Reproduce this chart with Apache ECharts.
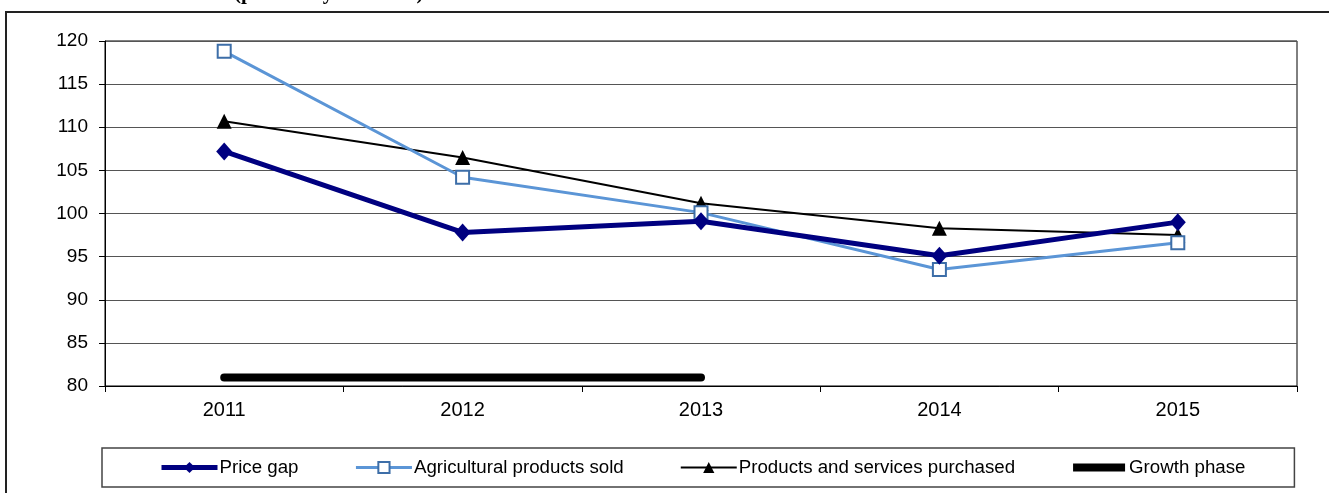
<!DOCTYPE html>
<html>
<head>
<meta charset="utf-8">
<script src="https://cdn.jsdelivr.net/npm/echarts@6/dist/echarts.min.js"></script>
<style>
  html, body { margin: 0; padding: 0; background: #fff; }
  #chart { width: 1329px; height: 493px; }
</style>
</head>
<body>
<div id="chart"></div>
<script>
  const years = ['2011', '2012', '2013', '2014', '2015'];
  const priceGap = [107.2, 97.8, 99.1, 95.1, 99.0];
  const agriSold = [118.8, 104.2, 100.1, 93.5, 96.6];
  const purchased = [110.7, 106.5, 101.2, 98.3, 97.5];
  const growthPhase = [81, 81, 81, null, null];
  const yTicks = { min: 80, max: 120, step: 5 };

  const font = 'Liberation Sans, Arial, sans-serif';
  const chart = echarts.init(document.getElementById('chart'), null, { renderer: 'canvas' });

  // thick bar icon, padded with move-to points so it keeps the full item box
  const barIcon = 'path://M0,0M2,3L54,3L54,11L2,11ZM56,14';

  chart.setOption({
    animation: false,
    backgroundColor: '#fff',
    textStyle: { fontFamily: font },
    graphic: [
      {
        type: 'rect',
        shape: { x: 6, y: 12, width: 1340, height: 520 },
        style: { fill: 'none', stroke: '#222', lineWidth: 2 },
        silent: true
      },
      {
        type: 'text',
        x: 234, y: -17,
        style: {
          text: '(previous year = 100)',
          font: 'bold 21px "Liberation Serif", "Times New Roman", serif',
          fill: '#000',
          verticalAlign: 'top'
        },
        silent: true
      }
    ],
    grid: {
      left: 105, right: 32, top: 41, bottom: 107,
      show: true, borderColor: '#000', borderWidth: 1
    },
    legend: {
      left: 102, top: 448,
      padding: [10, 49, 10, 57],
      borderColor: '#444', borderWidth: 1.5,
      itemWidth: 56, itemHeight: 14, itemGap: 56,
      textStyle: { fontSize: 18.7, color: '#000', fontFamily: font, padding: [0, 0, 0, -3] },
      data: [
        { name: 'Price gap', lineStyle: { width: 5 } },
        { name: 'Agricultural products sold', lineStyle: { width: 3 } },
        { name: 'Products and services purchased', lineStyle: { width: 2 } },
        { name: 'Growth phase', icon: barIcon, itemStyle: { color: '#000' } }
      ]
    },
    xAxis: {
      type: 'category',
      data: years,
      boundaryGap: true,
      axisLine: { lineStyle: { color: '#000', width: 1 } },
      axisTick: { show: true, length: 6, lineStyle: { color: '#000' } },
      axisLabel: { fontSize: 20, color: '#000', margin: 14 }
    },
    yAxis: {
      type: 'value',
      min: yTicks.min, max: yTicks.max, interval: yTicks.step,
      axisLine: { show: true, lineStyle: { color: '#000', width: 1 } },
      axisTick: { show: true, length: 6, lineStyle: { color: '#000' } },
      axisLabel: { fontSize: 19, color: '#000', margin: 17 },
      splitLine: { lineStyle: { color: '#555', width: 1 } }
    },
    series: [
      {
        name: 'Growth phase', type: 'line', data: growthPhase,
        showSymbol: false, symbol: 'none',
        lineStyle: { color: '#000', width: 8, cap: 'round' },
        itemStyle: { color: '#000' }, z: 2
      },
      {
        name: 'Products and services purchased', type: 'line', data: purchased,
        symbol: 'triangle', symbolSize: 15,
        lineStyle: { color: '#000', width: 2 },
        itemStyle: { color: '#000' }, z: 3
      },
      {
        name: 'Agricultural products sold', type: 'line', data: agriSold,
        symbol: 'rect', symbolSize: 13,
        lineStyle: { color: '#5b95d6', width: 3 },
        itemStyle: { color: '#fff', borderColor: '#3d6ea8', borderWidth: 2 }, z: 4
      },
      {
        name: 'Price gap', type: 'line', data: priceGap,
        symbol: 'diamond', symbolSize: [16, 18],
        lineStyle: { color: '#000080', width: 5 },
        itemStyle: { color: '#000080' }, z: 5
      }
    ]
  });
</script>
</body>
</html>
